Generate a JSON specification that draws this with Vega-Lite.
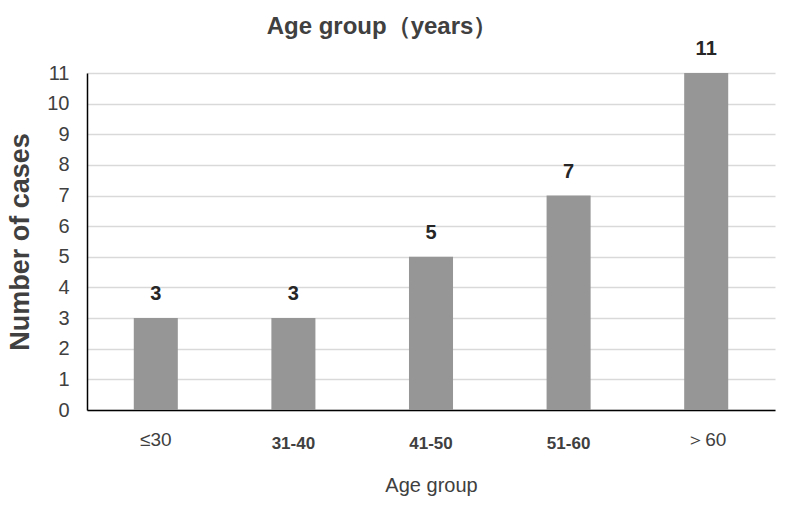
{
  "$schema": "https://vega.github.io/schema/vega-lite/v6.json",
  "width": 688,
  "height": 337,
  "autosize": {"type": "none"},
  "padding": {"left": 87, "top": 73, "right": 12, "bottom": 98},
  "background": "white",
  "title": {
    "text": "Age group（years）",
    "font": "Liberation Sans",
    "fontSize": 24,
    "fontWeight": "bold",
    "color": "#404040",
    "offset": 0,
    "dx": -49
  },
  "data": {
    "values": [
      {"group": "≤30", "cases": 3},
      {"group": "31-40", "cases": 3},
      {"group": "41-50", "cases": 5},
      {"group": "51-60", "cases": 7},
      {"group": "＞60", "cases": 11}
    ]
  },
  "encoding": {
    "x": {
      "field": "group",
      "type": "nominal",
      "sort": null,
      "scale": {"paddingInner": 0.68, "paddingOuter": 0.34},
      "axis": {
        "title": "Age group",
        "titleFont": "Liberation Sans",
        "titleFontSize": 20,
        "titleFontWeight": "normal",
        "titleColor": "#404040",
        "titlePadding": 24,
        "labelAngle": 0,
        "labelFont": "Liberation Sans",
        "labelFontSize": {"condition": {"test": "datum.value === '≤30' || datum.value === '＞60'", "value": 19}, "value": 17},
        "labelFontWeight": {"condition": {"test": "datum.value === '≤30' || datum.value === '＞60'", "value": "normal"}, "value": "bold"},
        "labelPadding": {"condition": {"test": "datum.value === '≤30' || datum.value === '＞60'", "value": 20}, "value": 25},
        "labelColor": "#404040",
        "ticks": false,
        "domainColor": "#000000",
        "domainWidth": 1.5,
        "grid": false
      }
    },
    "y": {
      "field": "cases",
      "type": "quantitative",
      "scale": {"domain": [0, 11], "nice": false},
      "axis": {
        "title": "Number of cases",
        "titleFont": "Liberation Sans",
        "titleFontSize": 27,
        "titleFontWeight": "bold",
        "titleColor": "#404040",
        "titlePadding": 12,
        "values": [0,1,2,3,4,5,6,7,8,9,10,11],
        "labelFont": "Liberation Sans",
        "labelFontSize": 20,
        "labelFontWeight": "normal",
        "labelColor": "#404040",
        "labelPadding": 18,
        "ticks": false,
        "domainColor": "#000000",
        "domainWidth": 1.5,
        "gridColor": "#d9d9d9",
        "gridWidth": 1.5
      }
    }
  },
  "layer": [
    {"mark": {"type": "bar", "color": "#969696"}},
    {
      "mark": {
        "type": "text",
        "baseline": "alphabetic",
        "dy": -18,
        "font": "Liberation Sans",
        "fontSize": 20,
        "fontWeight": "bold",
        "color": "#262626"
      },
      "encoding": {"text": {"field": "cases", "type": "quantitative"}}
    }
  ],
  "config": {"view": {"stroke": null}}
}
